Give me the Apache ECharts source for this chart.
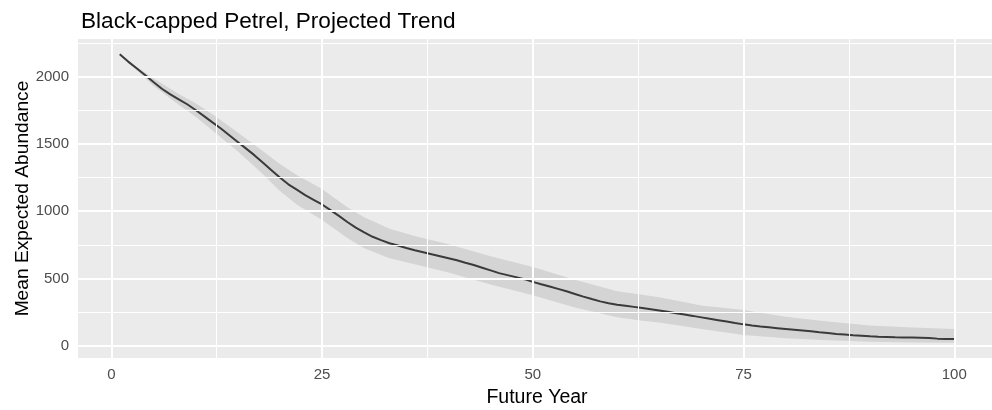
<!DOCTYPE html>
<html>
<head>
<meta charset="utf-8">
<script src="https://cdn.jsdelivr.net/npm/echarts@6/dist/echarts.min.js"></script>
<style>
html,body{margin:0;padding:0;background:#fff;}
#chart{width:992px;height:410px;}
</style>
</head>
<body>
<div id="chart"></div>
<script>
// ---- data ----
const years = [1,2,3,4,5,6,7,8,9,10,11,12,13,14,15,16,17,18,19,20,21,22,23,24,25,26,27,28,29,30,31,32,33,34,35,36,37,38,39,40,41,42,43,44,45,46,47,48,49,50,51,52,53,54,55,56,57,58,59,60,61,62,63,64,65,66,67,68,69,70,71,72,73,74,75,76,77,78,79,80,81,82,83,84,85,86,87,88,89,90,91,92,93,94,95,96,97,98,99,100];
const meanAbundance = [2167,2112,2062,2012,1960,1910,1868,1832,1795,1752,1707,1660,1615,1565,1515,1465,1415,1360,1305,1250,1200,1160,1120,1085,1050,1008,965,920,878,842,810,785,762,745,727,710,695,680,665,650,635,617,600,580,560,540,525,510,495,475,457,440,423,405,385,365,347,330,316,305,297,289,281,272,262,252,242,232,222,211,200,190,180,169,159,150,143,137,131,125,119,113,107,100,94,88,83,78,74,70,67,65,63,62,61,59,57,53,51,50];
const bandYears = [1,3,5,8,10,12,15,18,20,22,25,28,30,33,36,40,45,50,55,60,63,65,70,75,80,85,90,95,100];
const bandLower = [2164,2050,1933,1792,1702,1600,1445,1275,1150,1050,935,800,725,650,605,545,455,375,285,212,185,172,125,80,55,40,30,25,22];
const bandUpper = [2170,2072,1988,1872,1802,1720,1585,1445,1350,1270,1165,1030,955,870,815,755,665,585,490,405,380,360,300,265,215,180,150,135,124];
const xTicks = [0,25,50,75,100];
const xMinor = [12.5,37.5,62.5,87.5];
const yTicks = [0,500,1000,1500,2000];
const yMinor = [250,750,1250,1750,2250];

const chart = echarts.init(document.getElementById('chart'), null, {renderer:'canvas'});
const FONT = '"Liberation Sans", Arial, sans-serif';

const gridLines = [];
xTicks.forEach(v => gridLines.push({xAxis: v, lineStyle:{color:'#ffffff', width:2, type:'solid'}}));
xMinor.forEach(v => gridLines.push({xAxis: v, lineStyle:{color:'#ffffff', width:1, type:'solid'}}));
yTicks.forEach(v => gridLines.push({yAxis: v, lineStyle:{color:'#ffffff', width:2, type:'solid'}}));
yMinor.forEach(v => gridLines.push({yAxis: v, lineStyle:{color:'#ffffff', width:1, type:'solid'}}));

const lineData = years.map((y, i) => [y, meanAbundance[i]]);
const bandData = bandYears.map((y, i) => [y, bandLower[i], bandUpper[i]]);

chart.setOption({
  animation: false,
  backgroundColor: '#ffffff',
  title: {
    text: 'Black-capped Petrel, Projected Trend',
    left: 76, top: 5,
    textStyle: {fontFamily: FONT, fontSize: 22.6, fontWeight: 'normal', color: '#000000'}
  },
  grid: {
    left: 78, top: 39, width: 918, height: 319,
    outerBoundsMode: 'none', containLabel: false,
    show: true, backgroundColor: '#EBEBEB', borderWidth: 0
  },
  xAxis: {
    type: 'value', min: -3.95, max: 104.95,
    name: 'Future Year', nameLocation: 'middle', nameGap: 30, nameMoveOverlap: false,
    nameTextStyle: {fontFamily: FONT, fontSize: 19.5, color: '#000000'},
    axisLine: {show: false},
    axisTick: {show: true, length: 5, lineStyle: {color: '#333333', width: 1}, customValues: xTicks},
    axisLabel: {fontFamily: FONT, fontSize: 15, color: '#4D4D4D', margin: 9, customValues: xTicks,
      formatter: v => String(v)},
    splitLine: {show: false}
  },
  yAxis: {
    type: 'value', min: -91, max: 2280,
    name: 'Mean Expected Abundance', nameLocation: 'middle', nameGap: 46, nameRotate: 90, nameMoveOverlap: false,
    nameTextStyle: {fontFamily: FONT, fontSize: 19.2, color: '#000000'},
    axisLine: {show: false},
    axisTick: {show: true, length: 5, lineStyle: {color: '#333333', width: 1}, customValues: yTicks},
    axisLabel: {fontFamily: FONT, fontSize: 15, color: '#4D4D4D', margin: 9, customValues: yTicks,
      formatter: v => String(v)},
    splitLine: {show: false}
  },
  series: [
    {
      type: 'line', data: [], z: 1, silent: true,
      markLine: {silent: true, symbol: ['none','none'], label: {show: false}, animation: false, data: gridLines}
    },
    {
      type: 'custom', z: 2, silent: true, data: bandData,
      encode: {x: 0, y: [1, 2]},
      renderItem: function (params, api) {
        if (params.dataIndex !== 0) return null;
        const pts = [];
        for (let i = 0; i < bandYears.length; i++) pts.push(api.coord([bandYears[i], bandUpper[i]]));
        for (let i = bandYears.length - 1; i >= 0; i--) pts.push(api.coord([bandYears[i], bandLower[i]]));
        return {type: 'polygon', shape: {points: pts}, style: {fill: '#D4D4D4', stroke: null}};
      }
    },
    {
      type: 'line', z: 3, data: lineData, showSymbol: false, symbol: 'none',
      lineStyle: {color: '#3A3A3A', width: 2}
    }
  ]
});
</script>
</body>
</html>
